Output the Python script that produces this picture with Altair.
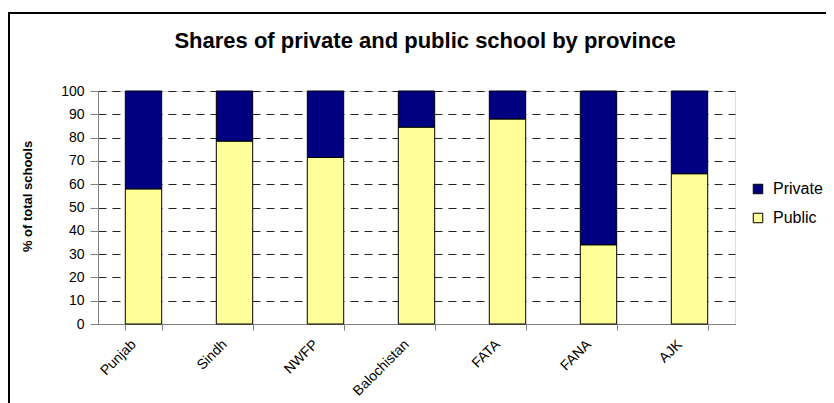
import altair as alt
import pandas as pd

title_text = "Shares of private and public school by province"
provinces = ["Punjab", "Sindh", "NWFP", "Balochistan", "FATA", "FANA", "AJK"]
public = [58, 78.5, 71.5, 84.5, 88, 34, 64.5]
private = [42, 21.5, 28.5, 15.5, 12, 66, 35.5]
series = ["Private", "Public"]
colors = ["#000080", "#FFFF99"]
y_ticks = list(range(0, 101, 10))

rows = []
for p, pu, pr in zip(provinces, public, private):
    rows.append({"province": p, "type": "Public", "value": pu, "ord": 0})
    rows.append({"province": p, "type": "Private", "value": pr, "ord": 1})
df = pd.DataFrame(rows)

FONT = "Liberation Sans"

bars = alt.Chart(df).mark_bar(stroke="black", strokeWidth=1).encode(
    x=alt.X(
        "province:N",
        sort=provinces,
        scale=alt.Scale(paddingInner=0.6, paddingOuter=0.3),
        axis=alt.Axis(
            title=None,
            labelAngle=-45,
            labelFontSize=14,
            labelFont=FONT,
            labelColor="black",
            tickBand="extent",
            tickSize=6,
            tickColor="#808080",
            domainColor="#808080",
            labelPadding=7,
            labelOffset=-15,
        ),
    ),
    y=alt.Y(
        "value:Q",
        stack="zero",
        scale=alt.Scale(domain=[0, 100], nice=False),
        axis=alt.Axis(
            title="% of total schools",
            values=y_ticks,
            titleFont=FONT,
            titleFontSize=13,
            titleFontWeight="bold",
            titleColor="black",
            titleX=-71,
            titleY=105,
            titleBaseline="middle",
            labelFont=FONT,
            labelFontSize=14,
            labelColor="black",
            tickSize=8,
            tickColor="#808080",
            domainColor="#808080",
            grid=True,
            gridColor="#222222",
            gridDash=[8, 6],
            gridWidth=1,
            labelPadding=6,
        ),
    ),
    color=alt.Color(
        "type:N",
        scale=alt.Scale(domain=series, range=colors),
        legend=alt.Legend(
            title=None,
            orient="none",
            legendX=652,
            legendY=90,
            symbolType="square",
            symbolSize=90,
            symbolStrokeColor="black",
            symbolStrokeWidth=1,
            labelFont=FONT,
            labelFontSize=16,
            labelColor="black",
            rowPadding=13,
            labelOffset=7,
        ),
    ),
    order=alt.Order("ord:Q"),
)

frame = alt.Chart(pd.DataFrame({"a": [0]})).mark_rect(
    filled=False, stroke="black", strokeWidth=2
).encode(
    x=alt.value(-89),
    x2=alt.value(900),
    y=alt.value(-78),
    y2=alt.value(600),
)

title = alt.Chart(pd.DataFrame({"t": [title_text]})).mark_text(
    font=FONT,
    fontSize=22,
    fontWeight="bold",
    color="black",
    align="center",
    baseline="alphabetic",
).encode(
    text="t:N",
    x=alt.value(327),
    y=alt.value(-43),
)

chart = alt.layer(bars, frame, title).properties(
    width=637,
    height=233,
    autosize=alt.AutoSizeParams(type="none"),
    padding={"left": 90, "top": 83, "right": 91, "bottom": 79},
).configure_view(
    stroke="#808080", strokeWidth=1
).configure(background="white")

chart.save("out.html", embed_options={"renderer": "svg", "actions": False})
